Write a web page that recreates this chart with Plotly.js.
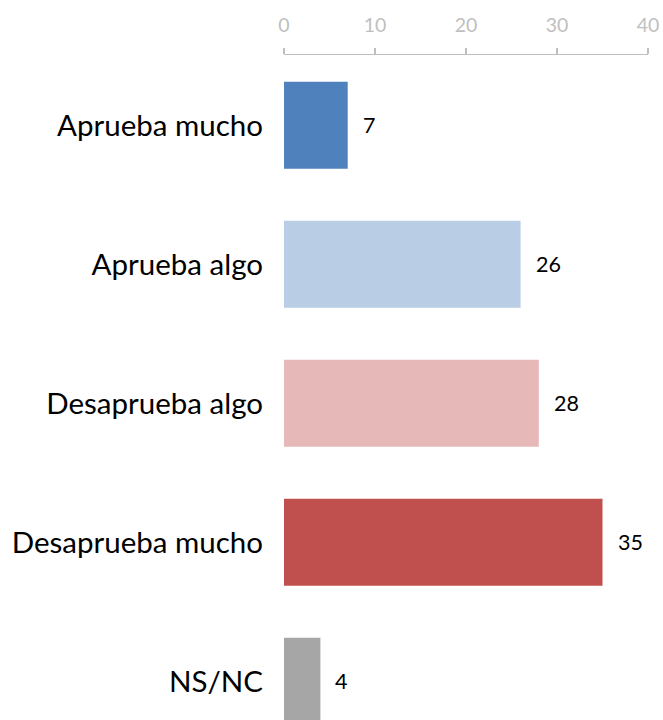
<!DOCTYPE html>
<html><head><meta charset="utf-8">
<script src="https://cdn.plot.ly/plotly-3.0.1.min.js"></script>
<style>html,body{margin:0;padding:0;background:#fff}#c{width:663px;height:720px}</style>
</head><body><div id="c"></div>
<script>
const categories = ["Aprueba mucho", "Aprueba algo", "Desaprueba algo", "Desaprueba mucho", "NS/NC"];
const values = [7, 26, 28, 35, 4];
const colors = ["#4F81BD", "#B9CDE5", "#E6B9B8", "#C0504D", "#A6A6A6"];
const tickVals = [0, 10, 20, 30, 40];

const trace = {
  type: "bar", orientation: "h",
  x: values, y: categories,
  marker: {color: colors},
  hoverinfo: "none"
};
const annotations = categories.map((c, i) => ({
  x: values[i], y: c, xref: "x", yref: "y",
  text: String(values[i]), showarrow: false,
  xanchor: "left", xshift: 13,
  font: {family: "Lato, sans-serif", size: 21.5, color: "#000"}
}));
const layout = {
  width: 663, height: 720,
  margin: {l: 284, r: 15, t: 55, b: 0},
  paper_bgcolor: "#fff", plot_bgcolor: "#fff",
  bargap: 0.374,
  showlegend: false,
  xaxis: {
    side: "top", range: [0, 40], tickvals: tickVals,
    showgrid: false, zeroline: false,
    showline: true, linecolor: "#BFBFBF", linewidth: 1.5,
    ticks: "outside", ticklen: 6, tickcolor: "#BFBFBF", tickwidth: 1.5,
    tickfont: {family: "Lato, sans-serif", size: 19.5, color: "#BFBFBF"},
    ticklabelstandoff: 8
  },
  yaxis: {
    type: "category", range: [4.279, -0.505],
    showgrid: false, zeroline: false, showline: false,
    ticks: "", ticklabelstandoff: 20,
    tickfont: {family: "Lato, sans-serif", size: 29.5, color: "#000"}
  },
  annotations: annotations
};
Plotly.newPlot("c", [trace], layout, {displayModeBar: false, staticPlot: true});
</script></body></html>
